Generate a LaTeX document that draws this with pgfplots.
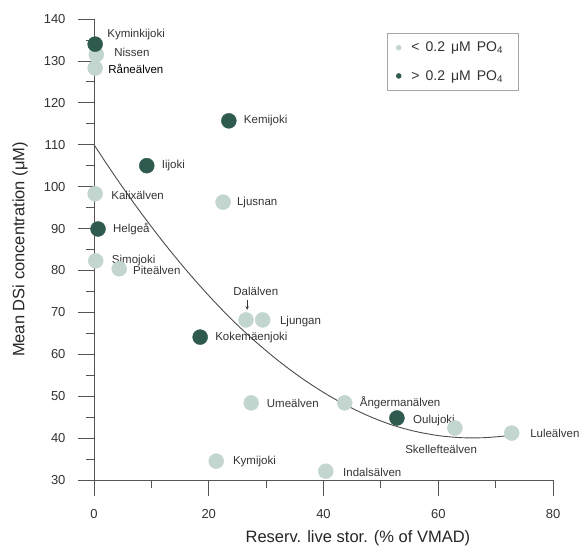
\documentclass[border=0pt]{standalone}
\usepackage{fontspec}
\setmainfont{Liberation Sans}
\usepackage{pgfplots}
\pgfplotsset{compat=1.18}
\definecolor{darkpt}{HTML}{2E5A4F}
\definecolor{lightpt}{HTML}{C3D5CF}
\definecolor{axgray}{HTML}{555555}
\definecolor{txt}{HTML}{333333}
\begin{document}
\begin{tikzpicture}
\useasboundingbox (-94pt,-67pt) rectangle (489pt,480pt);
\begin{axis}[
  scale only axis, width=459pt, height=461pt,
  xmin=0, xmax=80, ymin=30, ymax=140,
  axis lines=left, axis line style={-, axgray, line width=0.8pt},
  clip=false,
  xtick={0,20,40,60,80}, ytick={30,40,...,140},
  minor x tick num=1, minor y tick num=1,
  tick align=outside,
  major tick length=16pt, minor tick length=8pt,
  tick style={axgray, line width=0.8pt},
  /pgf/number format/assume math mode=true,
  ticklabel style={font=\fontsize{13}{15}\selectfont, text=txt},
  yticklabel style={xshift=-9pt},
  xticklabel style={yshift=-10pt},
  xlabel={Reserv. live stor. (\% of VMAD)},
  ylabel={Mean DSi concentration (μM)},
  label style={font=\fontsize{16.5}{19}\selectfont, text=black!85},
  xlabel style={at={(axis description cs:0.575,-0.126)}, anchor=center},
  ylabel style={at={(axis description cs:-0.161,0.5)}, anchor=center, rotate=0},
  legend style={at={(axis description cs:0.638,0.970)}, anchor=north west,
    draw=gray!70, font=\fontsize{14}{16}\selectfont, text=txt,
    inner xsep=9pt, inner ysep=7pt, row sep=13pt, cells={anchor=west}},
  legend image code/.code={\fill[#1] (0.45cm,0) circle (2.5pt);},
  legend cell align=left,
]
% fitted curve
\addplot[forget plot, black!70, line width=0.9pt, smooth] coordinates {
(0,110) (4,101.8) (8,94.1) (12,86.9) (16,80.2) (20,74.0) (24,68.3) (28,63.2)
(32,58.6) (36,54.5) (40,50.9) (44,47.8) (48,45.2) (52,43.1) (56,41.6) (60,40.6)
(64,40.1) (68,40.1) (71.6,40.5)};
% light points
\addplot[only marks, mark=*, mark size=7.5pt, color=lightpt, mark options={draw=none, fill=lightpt}] coordinates {
(0.4,131.5) (0.2,128.3) (0.2,98.3) (22.5,96.3) (0.3,82.3) (4.4,80.4)
(26.5,68.2) (29.4,68.2) (27.4,48.4) (43.7,48.4) (62.9,42.4) (72.8,41.2)
(21.3,34.5) (40.4,32.1)};
\addlegendentry{\hspace{8pt}<\hspace{6pt}0.2\hspace{6pt}μM\hspace{6pt}PO\textsubscript{4}\hspace*{4pt}}
% dark points
\addplot[only marks, mark=*, mark size=7.5pt, color=darkpt, mark options={draw=none, fill=darkpt}] coordinates {
(0.2,134) (23.5,115.7) (9.2,105) (0.7,89.9) (18.5,64.1) (52.8,44.8)};
\addlegendentry{\hspace{8pt}>\hspace{6pt}0.2\hspace{6pt}μM\hspace{6pt}PO\textsubscript{4}\hspace*{4pt}}
% labels
\begin{scope}[every node/.style={font=\fontsize{11.5}{13}\selectfont, text=txt, anchor=west, inner sep=0pt}]
\node at (axis cs:2.3,136.2) {Kyminkijoki};
\node at (axis cs:3.5,132.1) {Nissen};
\node[fill=white, inner sep=1pt, text=black] at (axis cs:2.3,128.1) {Råneälven};
\node at (axis cs:26.1,115.7) {Kemijoki};
\node at (axis cs:11.8,105) {Iijoki};
\node at (axis cs:3.0,98) {Kalixälven};
\node at (axis cs:24.9,96.3) {Ljusnan};
\node at (axis cs:3.3,89.9) {Helgeå};
\node at (axis cs:3.1,82.3) {Simojoki};
\node at (axis cs:6.8,80.1) {Piteälven};
\node[anchor=center] at (axis cs:28.2,74.9) {Dalälven};
\node at (axis cs:32.4,67.7) {Ljungan};
\node at (axis cs:21.1,64.1) {Kokemäenjoki};
\node at (axis cs:30.1,48.4) {Umeälven};
\node at (axis cs:46.3,48.4) {Ångermanälven};
\node at (axis cs:55.6,44.3) {Oulujoki};
\node[anchor=center] at (axis cs:60.5,37.2) {Skellefteälven};
\node at (axis cs:76,41.2) {Luleälven};
\node at (axis cs:24.2,34.5) {Kymijoki};
\node at (axis cs:43.4,31.9) {Indalsälven};
\end{scope}
\draw[-stealth, black!80, line width=0.6pt] (axis cs:26.7,73.0) -- (axis cs:26.7,70.6);
\end{axis}
\end{tikzpicture}
\end{document}
